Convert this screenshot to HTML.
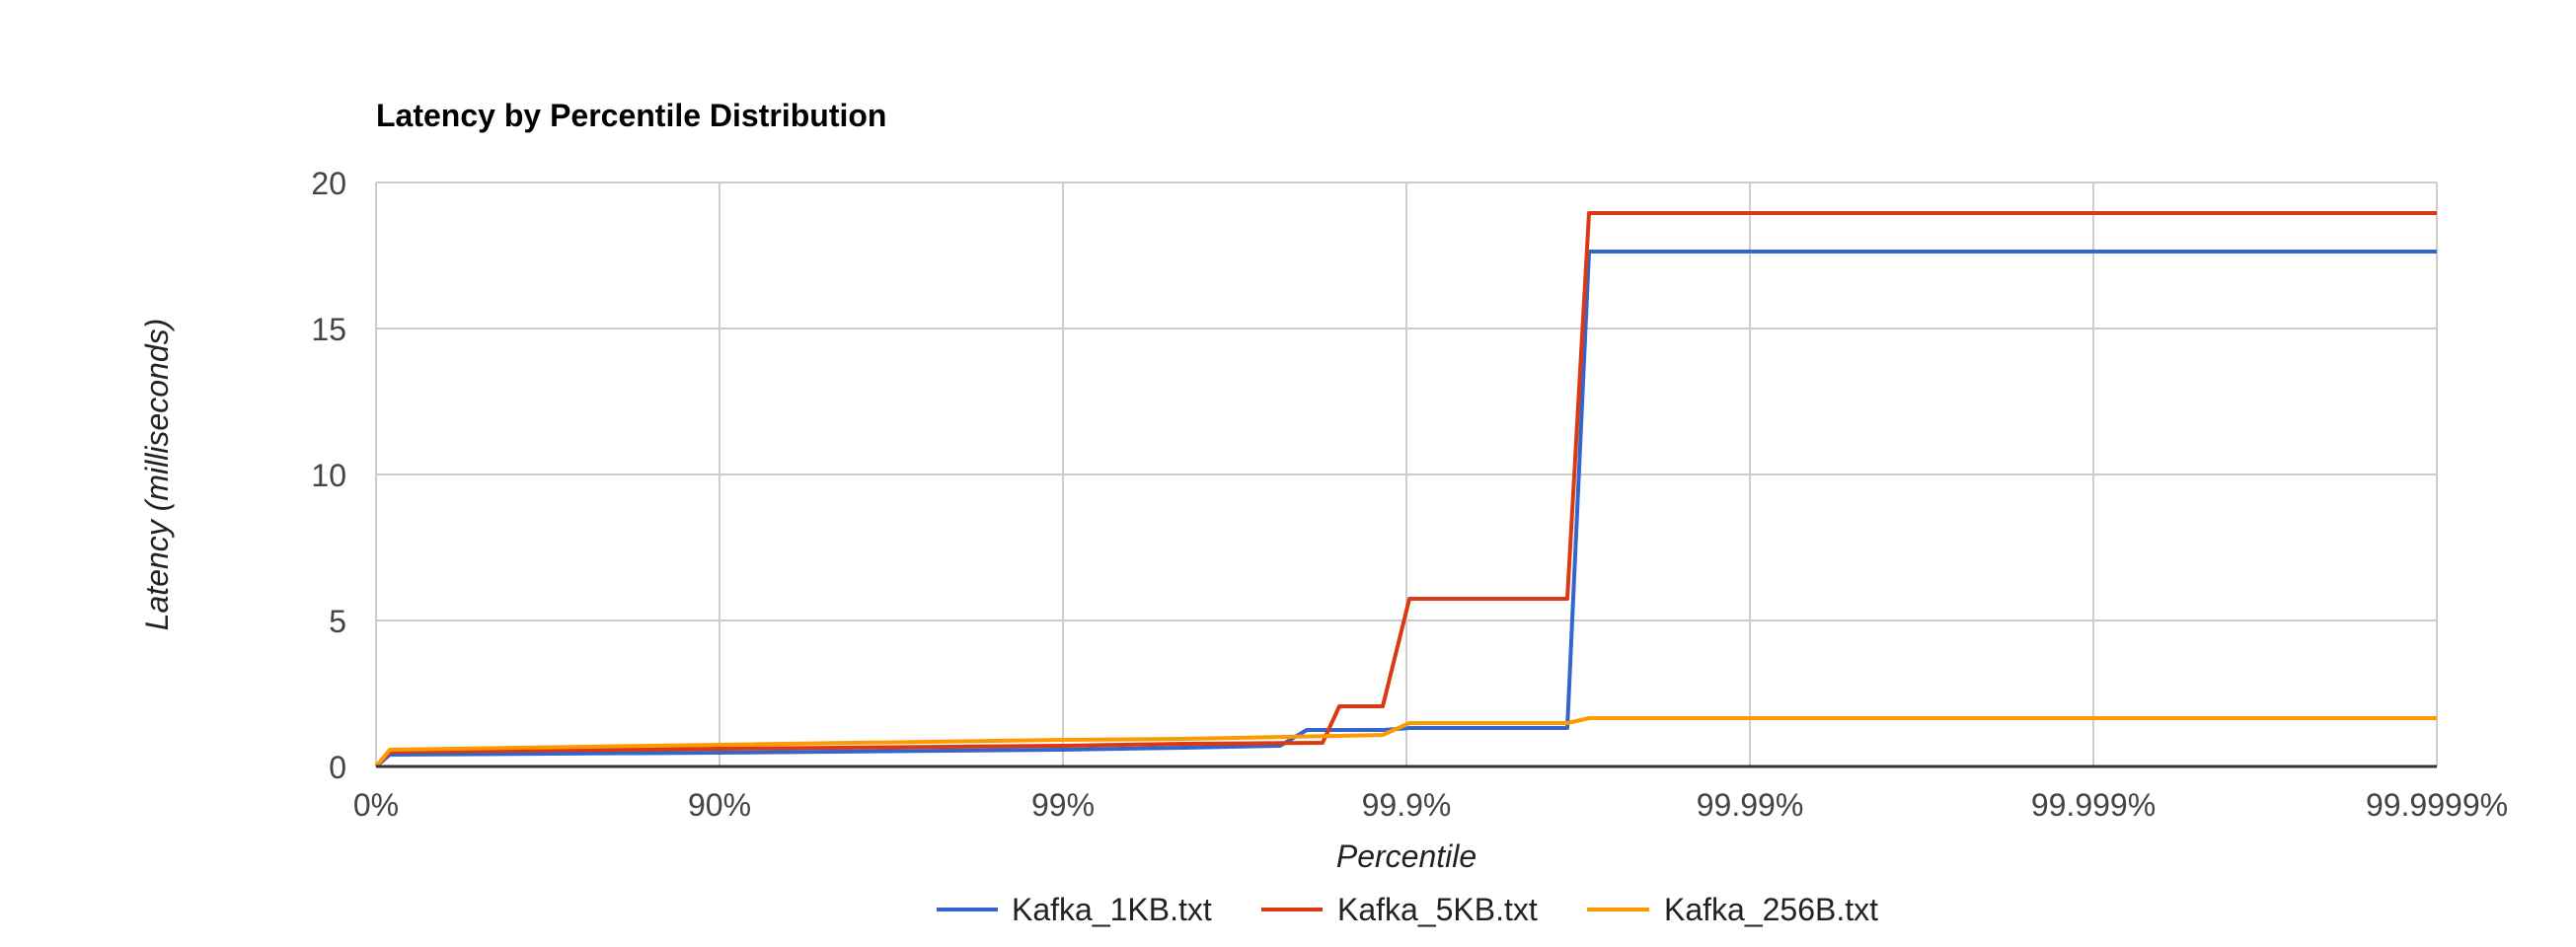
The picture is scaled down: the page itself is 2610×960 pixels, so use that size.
<!DOCTYPE html>
<html><head><meta charset="utf-8"><style>
html,body{margin:0;padding:0;background:#fff;}
svg{display:block;font-family:"Liberation Sans",Arial,sans-serif;}
</style></head><body>
<svg width="2610" height="960" viewBox="0 0 2610 960" xmlns="http://www.w3.org/2000/svg">
<rect width="2610" height="960" fill="#fff"/>
<text x="381" y="128" font-size="32" font-weight="bold" fill="#000">Latency by Percentile Distribution</text>
<g stroke="#ccc" stroke-width="2" fill="none">
<line x1="381" y1="185" x2="2469" y2="185"/>
<line x1="381" y1="333" x2="2469" y2="333"/>
<line x1="381" y1="481" x2="2469" y2="481"/>
<line x1="381" y1="629" x2="2469" y2="629"/>
<line x1="381" y1="185" x2="381" y2="777"/>
<line x1="729" y1="185" x2="729" y2="777"/>
<line x1="1077" y1="185" x2="1077" y2="777"/>
<line x1="1425" y1="185" x2="1425" y2="777"/>
<line x1="1773" y1="185" x2="1773" y2="777"/>
<line x1="2121" y1="185" x2="2121" y2="777"/>
<line x1="2469" y1="185" x2="2469" y2="777"/>
</g>
<g font-size="32" fill="#444" text-anchor="end">
<text x="351" y="197">20</text>
<text x="351" y="345">15</text>
<text x="351" y="493">10</text>
<text x="351" y="641">5</text>
<text x="351" y="789">0</text>
</g>
<g font-size="32" fill="#444" text-anchor="middle">
<text x="381" y="827">0%</text>
<text x="729" y="827">90%</text>
<text x="1077" y="827">99%</text>
<text x="1425" y="827">99.9%</text>
<text x="1773" y="827">99.99%</text>
<text x="2121" y="827">99.999%</text>
<text x="2469" y="827">99.9999%</text>
</g>
<text x="1425" y="879" font-size="32" font-style="italic" fill="#222" text-anchor="middle">Percentile</text>
<text transform="translate(170,481) rotate(-90)" font-size="32" font-style="italic" fill="#222" text-anchor="middle">Latency (milliseconds)</text>
<g fill="none" stroke-width="4" stroke-linejoin="round">
<polyline stroke="#3366cc" points="381,777 395,765 729,763 1077,760 1200,758 1297,756 1324,740 1402,740 1428,738 1588,738 1610,255 2469,255"/>
<polyline stroke="#dc3912" points="381,777 395,762 729,759 1077,756 1200,754 1340,753 1357,716 1401,716 1428,607 1588,607 1610,216 2469,216"/>
<polyline stroke="#ff9900" points="381,777 395,760 729,755 1077,750 1200,749 1300,747 1356,746 1401,745 1428,733 1588,733 1610,728 2469,728"/>
</g>
<line x1="381" y1="777" x2="2469" y2="777" stroke="#333" stroke-width="3"/>
<g stroke-width="4">
<line x1="949" y1="922" x2="1011" y2="922" stroke="#3366cc"/>
<line x1="1278" y1="922" x2="1340" y2="922" stroke="#dc3912"/>
<line x1="1608" y1="922" x2="1671" y2="922" stroke="#ff9900"/>
</g>
<g font-size="32" fill="#222">
<text x="1025" y="933">Kafka_1KB.txt</text>
<text x="1355" y="933">Kafka_5KB.txt</text>
<text x="1686" y="933">Kafka_256B.txt</text>
</g>
</svg>
</body></html>
